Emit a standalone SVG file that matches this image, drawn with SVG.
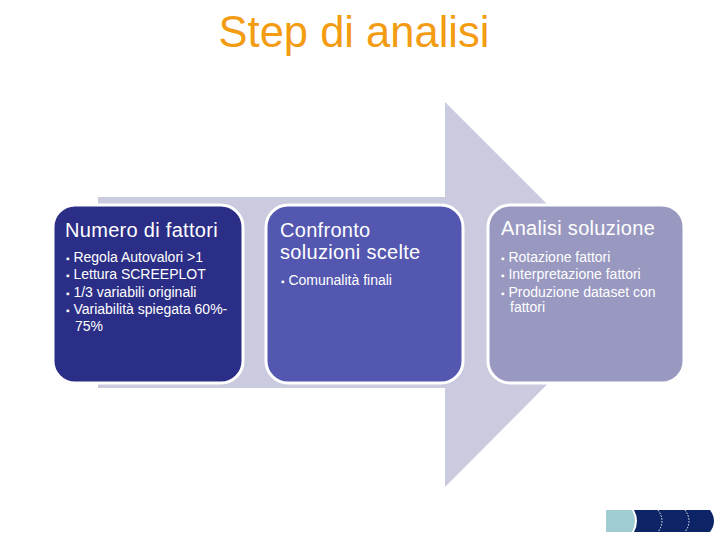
<svg xmlns="http://www.w3.org/2000/svg" width="720" height="540" viewBox="0 0 720 540">
<style>
text{font-family:"Liberation Sans",Arial,sans-serif;fill:#ffffff}
.h{font-size:20px;letter-spacing:0.3px}
.b{font-size:14px}
.d{font-size:10px}
.box{stroke:#ffffff;stroke-width:3}
</style>
<rect width="720" height="540" fill="#ffffff"/>
<text x="354" y="47" text-anchor="middle" style="font-size:43.5px;fill:#f39c12">Step di analisi</text>
<g id="arrow">
<path d="M98,197 H445 V102 L637,294 L445,487 V388 H98 Z" fill="#cbcbdf"/>
</g>
<g id="box1">
<rect class="box" x="53" y="205" width="190" height="178" rx="22" fill="#2b2e86"/>
<text class="h" x="65" y="237">Numero di fattori</text>
<text class="b" x="66" y="262"><tspan class="d">▪</tspan> Regola Autovalori &gt;1</text>
<text class="b" x="66" y="279"><tspan class="d">▪</tspan> Lettura SCREEPLOT</text>
<text class="b" x="66" y="297"><tspan class="d">▪</tspan> 1/3 variabili originali</text>
<text class="b" x="66" y="314"><tspan class="d">▪</tspan> Variabilità spiegata 60%-</text>
<text class="b" x="75" y="331">75%</text>
</g>
<g id="box2">
<rect class="box" x="266" y="205" width="197" height="178" rx="22" fill="#5457b0"/>
<text class="h" x="280" y="237">Confronto</text>
<text class="h" x="280" y="259">soluzioni scelte</text>
<text class="b" x="281" y="285"><tspan class="d">▪</tspan> Comunalità finali</text>
</g>
<g id="box3">
<rect class="box" x="488" y="205" width="196" height="178" rx="22" fill="#9898c0"/>
<text class="h" x="501" y="235">Analisi soluzione</text>
<text class="b" x="501" y="262"><tspan class="d">▪</tspan> Rotazione fattori</text>
<text class="b" x="501" y="279"><tspan class="d">▪</tspan> Interpretazione fattori</text>
<text class="b" x="501" y="297"><tspan class="d">▪</tspan> Produzione dataset con</text>
<text class="b" x="510" y="312">fattori</text>
</g>
<g id="nav">
<path d="M606,510 H632 Q638,521 632,532 H606 Z" fill="#a0cdd4"/>
<path d="M634,510 H710 Q718,521 710,532 H634 Q640,521 634,510 Z" fill="#0d2466"/>
<path d="M658,510 Q666,521 658,532" fill="none" stroke="#ffffff" stroke-width="1" stroke-dasharray="1.5,1.5"/>
<path d="M685,510 Q693,521 685,532" fill="none" stroke="#ffffff" stroke-width="1" stroke-dasharray="1.5,1.5"/>
</g>
</svg>
